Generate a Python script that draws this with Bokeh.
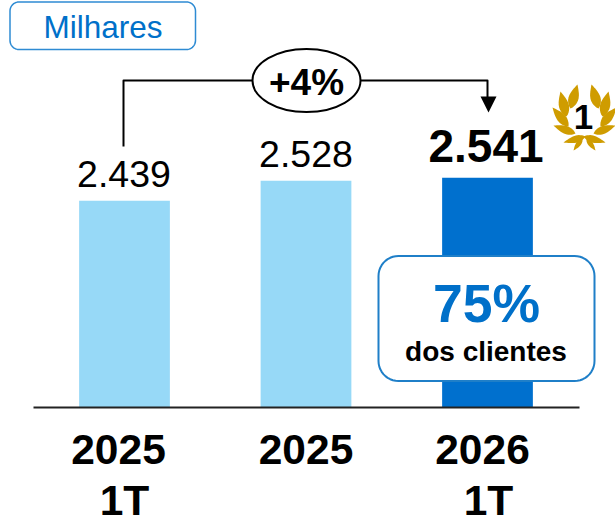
import numpy as np
from bokeh.plotting import figure
from bokeh.models import Range1d
from bokeh.embed import file_html
from bokeh.resources import INLINE
from bokeh.core.properties import value

categories = ["2025 1T", "2025", "2026 1T"]
year_labels = ["2025", "2025", "2026"]
quarter_labels = ["1T", "", "1T"]
values = [2439, 2528, 2541]
value_labels = ["2.439", "2.528", "2.541"]
bar_colors = ["#97D9F7", "#97D9F7", "#0070CE"]
unit_label = "Milhares"
growth_label = "+4%"
share_label = "75%"
share_caption = "dos clientes"
rank_label = "1"

FONT = value("Liberation Sans")
BLUE = "#0070C9"
GOLD = "#CF9C00"
W, H = 615, 520
BASE = 1520
PX_PER_UNIT = 0.225
BASE_PX = 407
SPACING = 181.5
CAP = 0.358  # half cap height of the font, in em

x = list(range(len(values)))
p = figure(width=W, height=H, output_backend="svg", toolbar_location=None,
           x_range=Range1d(-124 / SPACING, (W - 124) / SPACING),
           y_range=Range1d(BASE - (H - BASE_PX) / PX_PER_UNIT, BASE + BASE_PX / PX_PER_UNIT),
           min_border=0, outline_line_color=None)
p.xaxis.visible = False
p.yaxis.visible = False
p.grid.visible = False
p.extra_x_ranges = {"px": Range1d(0, W)}
p.extra_y_ranges = {"px": Range1d(H, 0)}
PX = dict(x_range_name="px", y_range_name="px")


def rrect(x0, y0, x1, y1, r):
    xs, ys = [], []
    for cx, cy, a0 in [(x1 - r, y0 + r, -90), (x1 - r, y1 - r, 0), (x0 + r, y1 - r, 90), (x0 + r, y0 + r, 180)]:
        t = np.radians(np.linspace(a0, a0 + 90, 12))
        xs += list(cx + r * np.cos(t))
        ys += list(cy + r * np.sin(t))
    return xs, ys


def leaf(x0, y0, x1, y1, w):
    t = np.linspace(0, 1, 16)
    dx, dy = x1 - x0, y1 - y0
    n = np.hypot(dx, dy)
    nx, ny = -dy / n, dx / n
    b = w / 2 * np.sin(np.pi * t ** 0.8)
    xa = x0 + dx * t + nx * b
    ya = y0 + dy * t + ny * b
    xb = x0 + dx * t - nx * b
    yb = y0 + dy * t - ny * b
    return list(xa) + list(xb[::-1]), list(ya) + list(yb[::-1])


def label(xv, yv, txt, size, color="#000000", bold=False, xo=0, yo=0, px=True, ypx=True):
    kw = {}
    if px:
        kw["x_range_name"] = "px"
    if ypx:
        kw["y_range_name"] = "px"
    p.text(x=xv, y=yv, text=txt, x_offset=xo, y_offset=yo - CAP * size, text_font=FONT,
           text_font_size=f"{size}px", text_font_style="bold" if bold else "normal",
           text_align="center", text_baseline="middle", text_color=color, **kw)


# bars
p.vbar(x=x, bottom=BASE, top=values, width=0.5, fill_color=bar_colors, line_color=None)
# baseline
p.segment(x0=[33], y0=[BASE_PX], x1=[579], y1=[BASE_PX], line_color="#222222", line_width=2, **PX)

# value labels
label(x[:2], values[:2], value_labels[:2], 37.5, xo=[-0.5, 0], yo=-13, px=False, ypx=False)
label(x[2:], values[2:], value_labels[2:], 46, bold=True, xo=-1.5, yo=-15, px=False, ypx=False)

# category labels
label(x, [464] * 3, year_labels, 42.5, bold=True, xo=[-6, 0, -5], px=False)
label(x, [515] * 3, quarter_labels, 42.5, bold=True, xo=[0, 0, 1], px=False)

# unit box
xs, ys = rrect(9.5, 1.5, 195, 49, 9)
p.patch(xs, ys, fill_color="#FFFFFF", line_color="#2E8BD3", line_width=1.5, **PX)
label([102.5], [38], [unit_label], 31.5, color=BLUE)

# growth bracket
p.line([123, 123, 487, 487], [146, 80, 80, 98], line_color="#000000", line_width=2, line_join="round", **PX)
p.patch([480, 496, 488], [96, 96, 112], fill_color="#000000", line_color=None, **PX)
p.ellipse(x=[306], y=[80], width=[108], height=[63], fill_color="#FFFFFF", line_color="#000000", line_width=2, **PX)
label([306], [95], [growth_label], 37, bold=True)

# share callout
xs, ys = rrect(378, 255.5, 594, 380.5, 20)
p.patch(xs, ys, fill_color="#FFFFFF", line_color="#1F7FC8", line_width=2, **PX)
label([486], [322], [share_label], 53.5, color=BLUE, bold=True)
label([485.5], [361], [share_caption], 28, bold=True)

# laurel
AX = 584
half = [(570, 108, 577, 84, 10), (566, 116, 560, 91, 10), (568, 126, 552, 107, 9),
        (575, 133, 553, 125, 8), (585, 136, 563, 142, 7), (582, 138, 573, 150, 5)]
lx, ly = [], []
for x0, y0, x1, y1, w in half:
    a, b = leaf(x0, y0, x1, y1, w)
    lx.append(a); ly.append(b)
    a2, b2 = leaf(2 * AX - x0, y0, 2 * AX - x1, y1, w)
    lx.append(a2); ly.append(b2)
p.patches(lx, ly, fill_color=GOLD, line_color=None, **PX)
label([583], [129], [rank_label], 35, bold=True)

open("out.html", "w").write(file_html(p, INLINE))
